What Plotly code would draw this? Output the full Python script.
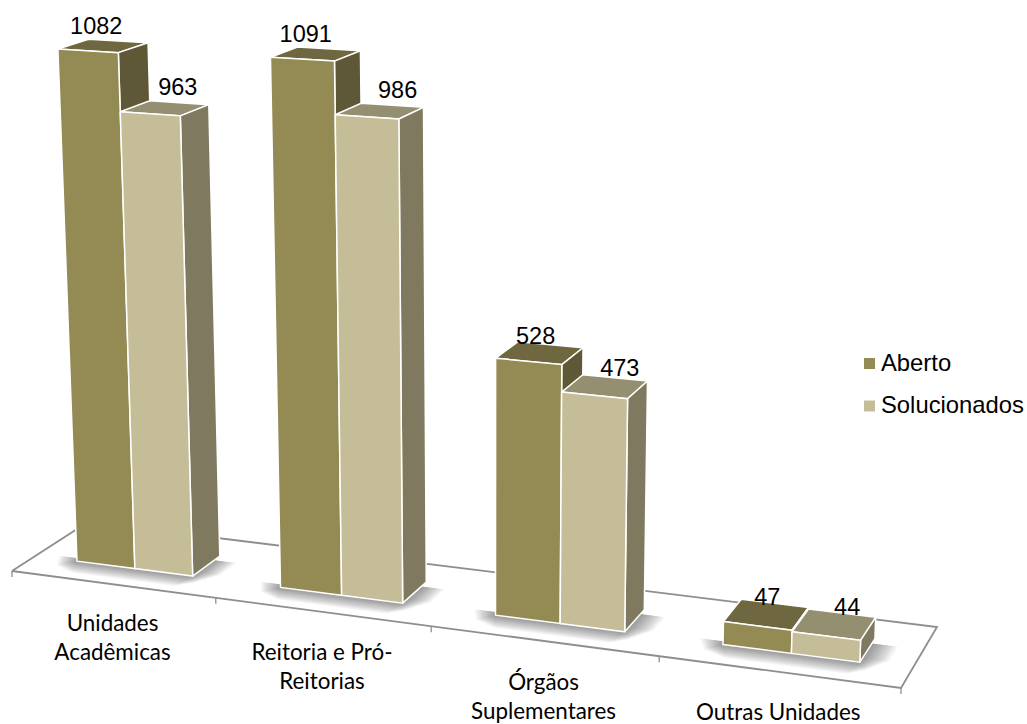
import numpy as np
import plotly.graph_objects as go

# ---- data ----
categories = ["Unidades<br>Acadêmicas", "Reitoria e Pró-<br>Reitorias", "Órgãos<br>Suplementares", "Outras Unidades"]
aberto = [1082, 1091, 528, 47]
solucionados = [963, 986, 473, 44]
series_names = ["Aberto", "Solucionados"]

# ---- styles ----
FRONT = ["#948A54", "#C4BD97"]
TOP = ["#6F6740", "#948F70"]
SIDE = ["#5E5836", "#7F7A5F"]
AXIS = "#8E8E8E"
EDGE = "#FFFFFF"
LABEL_FONT = "Liberation Sans"
CAT_FONT = "Lato"

# ---- projection (floor plane corners -> page, vertical vanishing point) ----
FLOOR = {(0, 0): (12, 571), (4, 0): (901, 688), (4, 1): (937, 627), (0, 1): (88, 522)}
VANISH = (490.0, 11650.0)
TILT = 4.12e-5
BAR_X = (0.21, 0.5, 0.785)
BAR_Z = (0.3, 0.69)


def homography(pairs):
    A, b = [], []
    for (u, v), (x, y) in pairs.items():
        A.append([u, v, 1, 0, 0, 0, -u * x, -v * x]); b.append(x)
        A.append([0, 0, 0, u, v, 1, -u * y, -v * y]); b.append(y)
    h = np.linalg.solve(np.array(A, float), np.array(b, float))
    return np.append(h, 1).reshape(3, 3)


H = homography(FLOOR)


def project(X, Z, Y=0.0):
    p = H @ np.array([X, Z, 1.0])
    p = p - TILT * Y * np.array([VANISH[0], VANISH[1], 1.0])
    return p[0] / p[2], p[1] / p[2]


def poly(points, fill, line=None, width=0.0):
    pts = list(points) + [points[0]]
    return go.Scatter(
        x=[p[0] for p in pts], y=[p[1] for p in pts], mode="lines", fill="toself",
        fillcolor=fill, line=dict(color=line or "rgba(0,0,0,0)", width=width, simplify=False),
        hoverinfo="skip", showlegend=False)


def seg(a, b, color=AXIS, width=1.8):
    return go.Scatter(x=[a[0], b[0]], y=[a[1], b[1]], mode="lines",
                      line=dict(color=color, width=width), hoverinfo="skip", showlegend=False)


fig = go.Figure()

# floor and axis
fig.add_trace(poly([project(0, 0), project(4, 0), project(4, 1), project(0, 1)], "#FFFFFF", AXIS, 1.8))
for i in range(5):
    p = project(i, 0)
    fig.add_trace(seg(p, (p[0], p[1] + 6), width=1.3))

# soft floor shadows: stacked translucent outlines, widest first
SHADOW_STEPS = np.arange(1.0, 0.0, -0.05)
for i in range(len(categories)):
    x0, x1 = i + BAR_X[0], i + BAR_X[2]
    z0, z1 = BAR_Z
    for e in SHADOW_STEPS:
        dx, dz = 0.11 * e, 0.2 * e
        cut_x, cut_z = 0.05 * e, 0.09 * e
        fig.add_trace(poly([
            project(x0 - dx, z0 + 0.05),
            project(x0 - dx + cut_x, z0 - dz + cut_z),
            project(x0 + cut_x, z0 - dz),
            project(x1 - cut_x * 0.5, z0 - dz),
            project(x1 + cut_x * 0.8, z0 - dz + cut_z),
            project(x1 + dx, z0 + 0.08),
            project(x1 + dx, z1 - 0.08),
            project(x1, z1 - 0.08),
            project(x0, z0 + 0.05),
        ], "rgba(40,40,40,0.028)"))


def bar(x0, x1, z0, z1, h, s):
    a, b = project(x0, z0), project(x1, z0)
    c = project(x1, z1)
    A, B = project(x0, z0, h), project(x1, z0, h)
    C, D = project(x1, z1, h), project(x0, z1, h)
    fig.add_trace(poly([A, B, C, D], TOP[s], EDGE, 1.5))
    fig.add_trace(poly([B, C, c, b], SIDE[s], EDGE, 1.5))
    fig.add_trace(poly([A, B, b, a], FRONT[s], EDGE, 1.5))


for i in range(len(categories)):
    bar(i + BAR_X[0], i + BAR_X[1], BAR_Z[0], BAR_Z[1], aberto[i], 0)
    bar(i + BAR_X[1], i + BAR_X[2], BAR_Z[0], BAR_Z[1], solucionados[i], 1)

# value labels
NUDGE = [(-7, -18), (13, -19), (-10, -18), (18, -19), (-4, -15), (15, -16), (1, -15), (13, -15)]
for i in range(len(categories)):
    for s, vals in enumerate([aberto, solucionados]):
        x0 = i + BAR_X[s]
        x1 = i + BAR_X[s + 1]
        cx, cy = project((x0 + x1) / 2, sum(BAR_Z) / 2, vals[i])
        dx, dy = NUDGE[2 * i + s]
        fig.add_trace(go.Scatter(x=[cx + dx], y=[cy + dy], mode="text", text=[str(vals[i])],
                                 textposition="middle center",
                                 textfont=dict(family=LABEL_FONT, size=23.5, color="#000000"),
                                 hoverinfo="skip", showlegend=False))

# category labels
for i, name in enumerate(categories):
    px_, py_ = project(i + 0.5, 0)
    for j, line in enumerate(name.split("<br>")):
        fig.add_trace(go.Scatter(x=[px_], y=[py_ + 43 + 29 * j - (2 if i == 0 else 0)], mode="text", text=[line],
                                 textposition="middle center",
                                 textfont=dict(family=CAT_FONT, size=22.4, color="#000000"),
                                 hoverinfo="skip", showlegend=False))

# legend
for s, name in enumerate(series_names):
    fig.add_trace(go.Scatter(x=[869.5], y=[363.5 + 42.5 * s], mode="markers", name=name,
                             marker=dict(symbol="square", size=11, color=FRONT[s]),
                             hoverinfo="skip", showlegend=False))
    fig.add_trace(go.Scatter(x=[881], y=[365 + 42 * s], mode="text", text=[name],
                             textposition="middle right",
                             textfont=dict(family=LABEL_FONT, size=23.8, color="#000000"),
                             hoverinfo="skip", showlegend=False))

fig.update_layout(
    width=1027, height=724, margin=dict(l=0, r=0, t=0, b=0), showlegend=False,
    paper_bgcolor="#FFFFFF", plot_bgcolor="#FFFFFF",
    xaxis=dict(range=[0, 1027], visible=False, fixedrange=True),
    yaxis=dict(range=[724, 0], visible=False, fixedrange=True),
)
fig.write_html("out.html", config={"displayModeBar": False},
               post_script="document.body.style.margin='0';document.body.style.overflow='hidden';")
